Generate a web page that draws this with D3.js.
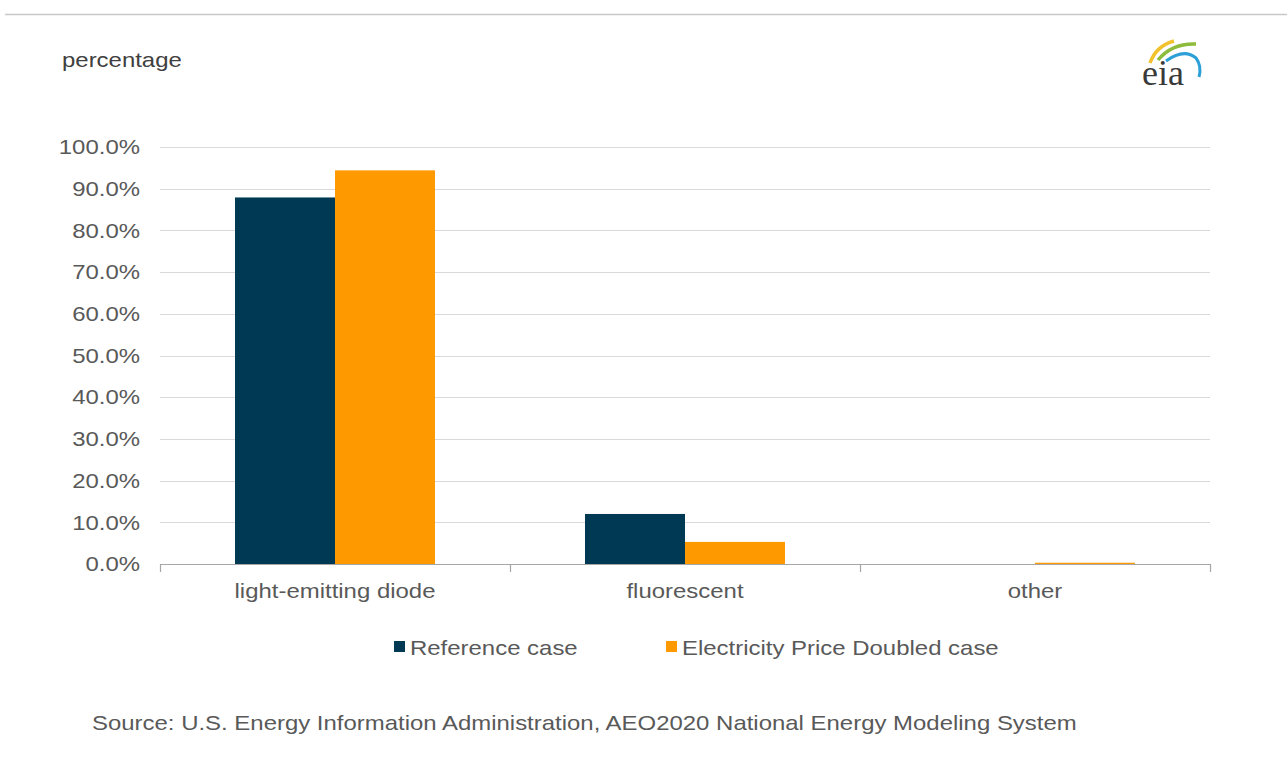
<!DOCTYPE html>
<html><head><meta charset="utf-8">
<script src="https://cdn.jsdelivr.net/npm/d3@7/dist/d3.min.js"></script>
<style>body{margin:0;background:#fff;}svg{display:block;font-family:"Liberation Sans",Arial,sans-serif;}</style>
</head><body>
<svg id="c" width="1287" height="759"></svg>
<script>
const categories = ["light-emitting diode", "fluorescent", "other"];
const seriesNames = ["Reference case", "Electricity Price Doubled case"];
const referenceValues = [87.9, 12.0, 0.0];
const doubledValues = [94.4, 5.3, 0.3];
const yTicks = [0, 10, 20, 30, 40, 50, 60, 70, 80, 90, 100];
const colors = ["#003953", "#ff9900"];

const FS = 21;
const STRETCH = 1.14;
function stretch(sel) {
  sel.each(function () {
    const len = this.getComputedTextLength();
    d3.select(this).attr("textLength", len * STRETCH).attr("lengthAdjust", "spacingAndGlyphs");
  });
}

const svg = d3.select("#c");
const M = {left: 160, right: 1210, top: 147, bottom: 564};

svg.append("line").attr("x1", 5).attr("x2", 1287).attr("y1", 14.5).attr("y2", 14.5)
  .attr("stroke", "#c8c8c8").attr("stroke-width", 1.5);

svg.append("text").attr("x", 62).attr("y", 67).attr("font-size", FS).attr("fill", "#404040")
  .text("percentage").call(stretch);

const x = d3.scaleBand().domain(categories).range([M.left, M.right]).paddingInner(0).paddingOuter(0);
const y = d3.scaleLinear().domain([0, 100]).range([M.bottom, M.top]);

// gridlines
svg.append("g").selectAll("line").data(yTicks.filter(d => d > 0)).join("line")
  .attr("x1", M.left).attr("x2", M.right)
  .attr("y1", d => Math.round(y(d)) + 0.5).attr("y2", d => Math.round(y(d)) + 0.5)
  .attr("stroke", "#d9d9d9").attr("stroke-width", 1);

// y axis labels
const yAxis = d3.axisLeft(y).tickValues(yTicks).tickSize(0).tickPadding(0)
  .tickFormat(d => d.toFixed(1) + "%");
const gy = svg.append("g").attr("transform", `translate(${M.left - 20},0)`).call(yAxis);
gy.select(".domain").remove();
gy.selectAll("text").attr("font-size", FS).attr("fill", "#595959")
  .attr("font-family", "Liberation Sans, Arial, sans-serif").call(stretch);

// bars
const barW = 100;
const data = categories.map((c, i) => ({c, vals: [referenceValues[i], doubledValues[i]]}));
const g = svg.append("g");
data.forEach(d => {
  const cx = x(d.c) + x.bandwidth() / 2;
  d.vals.forEach((v, j) => {
    if (v <= 0) return;
    g.append("rect")
      .attr("x", cx - barW + j * barW)
      .attr("y", y(v))
      .attr("width", barW)
      .attr("height", y(0) - y(v))
      .attr("fill", colors[j]);
  });
});

// x axis
const xAxis = d3.axisBottom(x).tickSize(0).tickPadding(19);
const gx = svg.append("g").attr("transform", `translate(0,${M.bottom + 0.5})`).call(xAxis);
gx.select(".domain").attr("stroke", "#a6a6a6").attr("stroke-width", 1.2)
  .attr("d", `M${M.left},0H${M.right}`);
gx.selectAll("text").attr("font-size", FS).attr("fill", "#595959")
  .attr("font-family", "Liberation Sans, Arial, sans-serif").attr("dy", "0.71em").call(stretch);
// category boundary ticks
const bounds = categories.map(c => x(c)).concat([M.right]);
svg.append("g").selectAll("line").data(bounds).join("line")
  .attr("x1", d => d + 0.5).attr("x2", d => d + 0.5)
  .attr("y1", M.bottom).attr("y2", M.bottom + 8)
  .attr("stroke", "#a6a6a6").attr("stroke-width", 1.2);

// legend
const legX = [394, 666];
const lg = svg.append("g");
seriesNames.forEach((s, i) => {
  lg.append("rect").attr("x", legX[i]).attr("y", 641).attr("width", 11).attr("height", 11).attr("fill", colors[i]);
  lg.append("text").attr("x", legX[i] + 16).attr("y", 655).attr("font-size", FS).attr("fill", "#595959").text(s).call(stretch);
});

// source
svg.append("text").attr("x", 92).attr("y", 730).attr("font-size", FS).attr("fill", "#595959")
  .text("Source: U.S. Energy Information Administration, AEO2020 National Energy Modeling System").call(stretch);

// eia logo
const logo = svg.append("g");
logo.append("path").attr("d", "M1150,63 Q1156,46 1174,41").attr("fill", "none").attr("stroke", "#f2c12e").attr("stroke-width", 3.5);
logo.append("path").attr("d", "M1158,60 Q1172,43 1196,44").attr("fill", "none").attr("stroke", "#8dbb3c").attr("stroke-width", 3.5);
logo.append("path").attr("d", "M1166,61 Q1184,48 1196,58 Q1202,66 1199,77").attr("fill", "none").attr("stroke", "#2a9fd8").attr("stroke-width", 3);
logo.append("text").attr("x", 1142).attr("y", 85).attr("font-size", 36)
  .attr("font-family", "Liberation Serif, Times New Roman, serif").attr("fill", "#3a3a3a").text("eia");
</script>
</body></html>
